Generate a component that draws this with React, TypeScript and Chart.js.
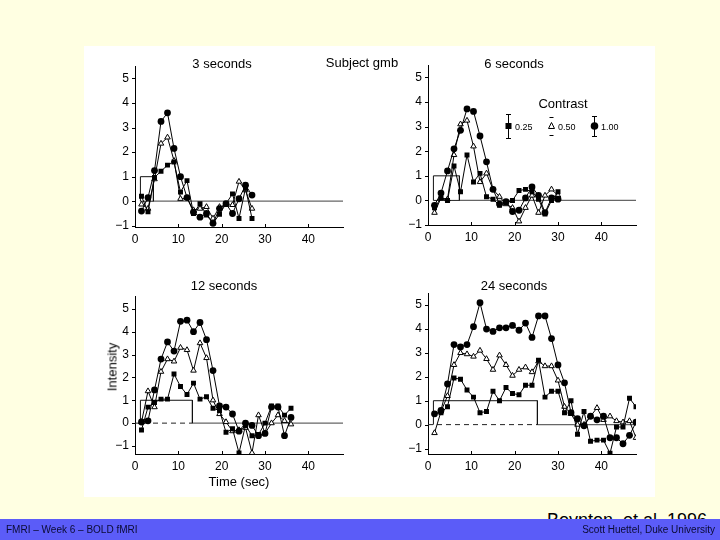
import React, { useEffect, useRef } from "react";
import { Chart, registerables } from "chart.js";
Chart.register(...registerables);

const FONT = '"Liberation Sans", Arial, Helvetica, sans-serif';

const xTickValues = [0, 10, 20, 30, 40];
const yTickValues = [-1, 0, 1, 2, 3, 4, 5];
const contrastLabels = ["0.25", "0.50", "1.00"];

// ---- 3 seconds ----
const time3 = [1.5, 3, 4.5, 6, 7.5, 9, 10.5, 12, 13.5, 15, 16.5, 18, 19.5, 21, 22.5, 24, 25.5, 27];
const c3_100 = [-0.4, 0.15, 1.25, 3.25, 3.6, 2.15, 1.0, 0.15, -0.45, -0.65, -0.5, -0.9, -0.3, -0.1, -0.5, 0.1, 0.65, 0.25];
const c3_050 = [-0.13, -0.3, 0.9, 2.35, 2.6, 1.65, 0.1, 0.13, -0.36, -0.3, -0.23, -0.7, -0.23, -0.15, -0.15, 0.8, 0.45, -0.3];
const c3_025 = [0.2, -0.43, 0.97, 1.22, 1.47, 1.6, 0.37, 0.84, -0.5, -0.1, -0.56, -0.9, -0.53, -0.1, 0.3, -0.7, 0.53, -0.7];

// ---- 6 seconds ----
const time6 = [1.5, 3, 4.5, 6, 7.5, 9, 10.5, 12, 13.5, 15, 16.5, 18, 19.5, 21, 22.5, 24, 25.5, 27, 28.5, 30];
const c6_100 = [-0.2, 0.3, 1.2, 2.1, 2.85, 3.72, 3.62, 2.62, 1.57, 0.45, -0.15, -0.05, -0.45, -0.4, 0.1, 0.55, 0.2, -0.5, 0.1, 0.05];
const c6_050 = [-0.5, 0.1, 0.05, 1.85, 3.1, 3.25, 2.2, 0.75, 1.1, 0.45, 0.15, -0.15, -0.3, -0.85, -0.3, 0.2, -0.5, 0.2, 0.45, 0.2];
const c6_025 = [-0.3, 0.1, 0.0, 1.4, 0.35, 1.85, 0.75, 1.1, 0.15, 0.05, -0.2, -0.1, 0.0, 0.4, 0.45, 0.35, 0.05, -0.55, 0.0, 0.35];

// ---- 12 seconds ----
const time12 = [1.5, 3, 4.5, 6, 7.5, 9, 10.5, 12, 13.5, 15, 16.5, 18, 19.5, 21, 22.5, 24, 25.5, 27, 28.5, 30, 31.5, 33, 34.5, 36];
const c12_100 = [0.05, 0.1, 1.45, 2.8, 3.55, 3.15, 4.45, 4.5, 4.0, 4.4, 3.65, 2.3, 0.75, 0.7, 0.4, -0.35, 0.0, -0.1, -0.55, -0.45, 0.7, 0.7, -0.55, 0.25];
const c12_050 = [0.05, 1.4, 0.7, 2.25, 2.8, 2.7, 3.3, 3.2, 2.3, 3.5, 2.85, 1.0, 0.4, 0.05, -0.35, -0.3, -0.2, -1.3, 0.35, -0.45, 0.0, 0.35, 0.1, -0.05];
const c12_025 = [-0.3, 0.7, 0.9, 1.05, 1.05, 2.15, 1.6, 1.25, 1.75, 1.05, 1.15, 0.65, 0.55, -0.4, -0.25, -1.3, -0.1, -0.55, -0.5, 0.0, 0.75, 0.75, 0.35, 0.65];

// ---- 24 seconds ----
const time24 = [1.5, 3, 4.5, 6, 7.5, 9, 10.5, 12, 13.5, 15, 16.5, 18, 19.5, 21, 22.5, 24, 25.5, 27, 28.5, 30, 31.5, 33, 34.5, 36, 37.5, 39, 40.5, 42, 43.5, 45, 46.5, 48];
const c24_100 = [0.45, 0.6, 1.7, 3.35, 3.25, 3.35, 4.1, 5.1, 4.0, 3.9, 4.05, 4.05, 4.15, 3.95, 4.25, 3.65, 4.55, 4.55, 3.6, 2.5, 1.75, 0.5, 0.25, -0.05, 0.35, 0.2, 0.35, -0.55, -0.55, -0.8, -0.45, 0.1];
const c24_050 = [-0.35, 0.55, 1.2, 2.5, 3.0, 2.95, 2.85, 3.1, 2.75, 2.3, 2.9, 2.5, 2.05, 2.3, 2.4, 2.2, 2.65, 2.45, 2.45, 1.85, 0.75, 0.45, 0.0, 0.0, 0.35, 0.7, 0.2, 0.35, 0.15, 0.1, 0.15, -0.55];
const c24_025 = [0.45, 0.5, 0.75, 1.95, 1.9, 1.45, 1.15, 0.5, 0.55, 1.4, 1.0, 1.55, 1.3, 1.25, 1.65, 1.65, 2.7, 1.15, 1.4, 1.4, 0.5, 1.0, -0.4, 0.55, -0.7, -0.65, -0.65, -1.2, -0.1, -0.1, 1.1, 0.75];

// stimulus on/off times (sec)
const stim3 = [1.25, 4.25];
const stim6 = [1.25, 7.25];
const stim12 = [1.25, 13.25];
const stim24 = [1.25, 25.25];

const X_MAX = 48;
const AX_W = 30;
const AX_H = 22;
const PAD_T = 10;
const PAD_R = 6;

const tickPlugin = {
  id: "inwardTicks",
  afterDraw(chart: any) {
    const { ctx, chartArea, scales } = chart;
    ctx.save();
    ctx.strokeStyle = "#000";
    ctx.lineWidth = 1;
    ctx.beginPath();
    for (const v of xTickValues) {
      const px = Math.round(scales.x.getPixelForValue(v)) + 0.5;
      ctx.moveTo(px, chartArea.bottom);
      ctx.lineTo(px, chartArea.bottom - 3);
    }
    for (const v of yTickValues) {
      const py = Math.round(scales.y.getPixelForValue(v)) + 0.5;
      ctx.moveTo(chartArea.left - 3, py);
      ctx.lineTo(chartArea.left, py);
    }
    ctx.stroke();
    ctx.restore();
  },
};

type PanelProps = {
  times: number[];
  high: number[];
  mid: number[];
  low: number[];
  stim: number[];
  dashed: boolean;
  yMin: number;
  yMax: number;
  L: number;
  T: number;
  R: number;
  B: number;
};

function pts(times: number[], vals: number[]) {
  return times.map((t, i) => ({ x: t, y: vals[i] }));
}

function Panel(p: PanelProps) {
  const ref = useRef<HTMLCanvasElement | null>(null);
  const width = p.R - p.L + AX_W + PAD_R;
  const height = p.B - p.T + PAD_T + AX_H;
  useEffect(() => {
    if (!ref.current) return;
    const datasets: any[] = [
      {
        data: pts(p.times, p.high),
        borderColor: "#000",
        borderWidth: 1,
        pointStyle: "circle",
        pointRadius: 3.4,
        pointBackgroundColor: "#000",
        pointBorderColor: "#000",
        pointBorderWidth: 0,
      },
      {
        data: pts(p.times, p.low),
        borderColor: "#000",
        borderWidth: 1,
        pointStyle: "rect",
        pointRadius: 3.5,
        pointBackgroundColor: "#000",
        pointBorderColor: "#000",
        pointBorderWidth: 0,
      },
      {
        data: pts(p.times, p.mid),
        borderColor: "#000",
        borderWidth: 1,
        pointStyle: "triangle",
        pointRadius: 3.2,
        pointBackgroundColor: "#fff",
        pointBorderColor: "#000",
        pointBorderWidth: 1,
      },
      {
        data: [
          { x: p.stim[0], y: 0 },
          { x: p.stim[0], y: 1 },
          { x: p.stim[1], y: 1 },
          { x: p.stim[1], y: 0 },
        ],
        borderColor: "#111",
        borderWidth: 1,
        pointRadius: 0,
      },
      {
        data: [
          { x: p.stim[1], y: 0 },
          { x: X_MAX, y: 0 },
        ],
        borderColor: "#666",
        borderWidth: 1.2,
        pointRadius: 0,
      },
      {
        data: p.dashed
          ? [
              { x: 0, y: 0 },
              { x: p.stim[1], y: 0 },
            ]
          : [
              { x: p.stim[0], y: 0 },
              { x: p.stim[1], y: 0 },
            ],
        borderColor: "#222",
        borderWidth: 1,
        borderDash: p.dashed ? [5, 4] : [],
        pointRadius: 0,
      },
    ];
    const chart = new Chart(ref.current, {
      type: "line",
      data: { datasets },
      plugins: [tickPlugin],
      options: {
        animation: false,
        responsive: false,
        maintainAspectRatio: false,
        devicePixelRatio: 1,
        layout: { padding: { top: PAD_T, right: PAD_R, left: 0, bottom: 0 } },
        plugins: {
          legend: { display: false },
          tooltip: { enabled: false },
          title: { display: false },
        },
        elements: { line: { tension: 0 } },
        scales: {
          x: {
            type: "linear",
            min: 0,
            max: X_MAX,
            afterBuildTicks: (a: any) => {
              a.ticks = xTickValues.map((v) => ({ value: v }));
            },
            afterFit: (s: any) => {
              s.height = AX_H;
            },
            grid: { display: false, drawTicks: false },
            border: { display: true, color: "#000", width: 1 },
            ticks: {
              color: "#000",
              font: { family: FONT, size: 12 },
              padding: 5,
              maxRotation: 0,
              autoSkip: false,
            },
          },
          y: {
            type: "linear",
            min: p.yMin,
            max: p.yMax,
            afterBuildTicks: (a: any) => {
              a.ticks = yTickValues.map((v) => ({ value: v }));
            },
            afterFit: (s: any) => {
              s.width = AX_W;
            },
            grid: { display: false, drawTicks: false },
            border: { display: true, color: "#000", width: 1 },
            ticks: {
              color: "#000",
              font: { family: FONT, size: 12 },
              padding: 6,
              autoSkip: false,
              callback: (v: any) => (v < 0 ? "\u2212" + Math.abs(v) : String(v)),
            },
          },
        },
      } as any,
    });
    return () => chart.destroy();
  }, []);
  return (
    <canvas
      ref={ref}
      width={width}
      height={height}
      style={{
        position: "absolute",
        left: p.L - AX_W,
        top: p.T - PAD_T,
        width,
        height,
      }}
    />
  );
}

function Txt(props: { x: number; y: number; size: number; children: any; anchor?: string; color?: string; z?: number }) {
  const tx = props.anchor === "start" ? "0" : props.anchor === "end" ? "-100%" : "-50%";
  return (
    <div
      style={{
        position: "absolute",
        left: props.x,
        top: props.y,
        transform: `translate(${tx}, -50%)`,
        fontFamily: FONT,
        fontSize: props.size,
        lineHeight: 1,
        whiteSpace: "nowrap",
        color: props.color || "#000",
        zIndex: props.z || 1,
      }}
    >
      {props.children}
    </div>
  );
}

function ContrastLegend() {
  return (
    <>
      <Txt x={563} y={103} size={13}>Contrast</Txt>
      <svg
        width={720}
        height={540}
        style={{ position: "absolute", left: 0, top: 0, zIndex: 2, pointerEvents: "none" }}
      >
        <g stroke="#000" strokeWidth={1} fill="none">
          <line x1={508.5} y1={114} x2={508.5} y2={139} />
          <line x1={506} y1={114.5} x2={511} y2={114.5} />
          <line x1={506} y1={138.5} x2={511} y2={138.5} />
          <line x1={549.5} y1={117.5} x2={553.5} y2={117.5} />
          <line x1={549.5} y1={135.5} x2={553.5} y2={135.5} />
          <line x1={594.5} y1={116} x2={594.5} y2={137} />
          <line x1={592} y1={116.5} x2={597} y2={116.5} />
          <line x1={592} y1={136.5} x2={597} y2={136.5} />
        </g>
        <rect x={505.5} y={123} width={6} height={6} fill="#000" />
        <polygon points="551.5,122.5 554.5,128.5 548.5,128.5" fill="#fff" stroke="#000" strokeWidth={1} />
        <circle cx={594.5} cy={126} r={3.8} fill="#000" />
      </svg>
      <Txt x={515} y={126.5} size={9} anchor="start">{contrastLabels[0]}</Txt>
      <Txt x={558} y={126.5} size={9} anchor="start">{contrastLabels[1]}</Txt>
      <Txt x={601} y={126.5} size={9} anchor="start">{contrastLabels[2]}</Txt>
    </>
  );
}

export default function App() {
  useEffect(() => {
    document.body.style.margin = "0";
  }, []);
  return (
    <div
      style={{
        position: "fixed",
        left: 0,
        top: 0,
        width: 720,
        height: 540,
        background: "#FFFFE2",
        overflow: "hidden",
      }}
    >
      <div style={{ position: "absolute", left: 84, top: 46, width: 571, height: 451, background: "#fff" }} />
      <Panel times={time3} high={c3_100} mid={c3_050} low={c3_025} stim={stim3} dashed={false} yMin={-1.05} yMax={5.5} L={135} T={63} R={343} B={227} />
      <Panel times={time6} high={c6_100} mid={c6_050} low={c6_025} stim={stim6} dashed={false} yMin={-1.0} yMax={5.5} L={428} T={62} R={636} B={225} />
      <Panel times={time12} high={c12_100} mid={c12_050} low={c12_025} stim={stim12} dashed={true} yMin={-1.35} yMax={5.55} L={135} T={293} R={343} B={454} />
      <Panel times={time24} high={c24_100} mid={c24_050} low={c24_025} stim={stim24} dashed={true} yMin={-1.23} yMax={5.5} L={428} T={290} R={636} B={454} />

      <Txt x={222} y={63} size={13}>3 seconds</Txt>
      <Txt x={362} y={62} size={13}>Subject gmb</Txt>
      <Txt x={514} y={63} size={13}>6 seconds</Txt>
      <Txt x={224} y={285} size={13}>12 seconds</Txt>
      <Txt x={514} y={285} size={13}>24 seconds</Txt>
      <Txt x={239} y={481} size={13}>Time (sec)</Txt>
      <div
        style={{
          position: "absolute",
          left: 112,
          top: 367,
          transform: "translate(-50%, -50%) rotate(-90deg)",
          fontFamily: FONT,
          fontSize: 13,
          lineHeight: 1,
          whiteSpace: "nowrap",
          color: "#000",
        }}
      >
        Intensity
      </div>
      <ContrastLegend />

      <Txt x={547} y={520} size={18} anchor="start" z={1}>Boynton, et al. 1996</Txt>
      <div style={{ position: "absolute", left: 0, top: 519, width: 720, height: 21, background: "#5B5CF8", zIndex: 3 }} />
      <Txt x={6} y={530} size={10} anchor="start" color="#0b0b33" z={4}>FMRI – Week 6 – BOLD fMRI</Txt>
      <Txt x={715} y={530} size={10} anchor="end" color="#0b0b33" z={4}>Scott Huettel, Duke University</Txt>
    </div>
  );
}
